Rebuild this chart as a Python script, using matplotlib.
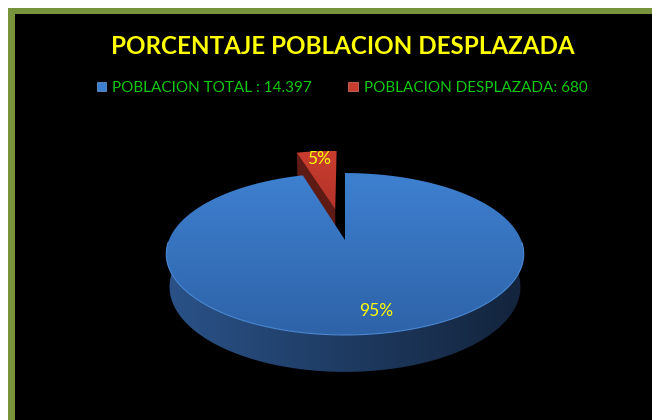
import numpy as np
import matplotlib.pyplot as plt
from matplotlib.patches import Polygon, Rectangle, Patch
from matplotlib.colors import LinearSegmentedColormap

# chart data
title = "PORCENTAJE POBLACION DESPLAZADA"
categories = ["POBLACION TOTAL : 14.397", "POBLACION DESPLAZADA: 680"]
values = [14397, 680]
explode = [0.0, 0.42]
top_colors = [("#3e80d0", "#2e63a8"), ("#c93d2f", "#b3332a")]
side_colors = [("#2a5288", "#13243c"), ("#5e1a14", "#5e1a14")]

plt.rcParams['font.family'] = ['Lato', 'DejaVu Sans']

# simple perspective camera, all in pixel space
cx, cy = 345, 240
F, D = 910.0, 5.17
elev = np.radians(26.5)
s_e, c_e = np.sin(elev), np.cos(elev)
h = 0.209


def proj(X, Y, Z=0.0):
    X = np.asarray(X, float)
    Y = np.asarray(Y, float)
    depth = D + Y * c_e - Z * s_e
    return cx + F * X / depth, cy - F * (Y * s_e + Z * c_e) / depth


fig = plt.figure(figsize=(6.52, 4.2), dpi=100)
fig.patch.set_facecolor("white")
ax = fig.add_axes([0, 0, 1, 1])
ax.set_xlim(0, 652)
ax.set_ylim(420, 0)
ax.axis("off")

# frame
ax.add_patch(Rectangle((8, 8), 700, 500, facecolor="#77933c", edgecolor="none", zorder=0))
ax.add_patch(Rectangle((15, 14), 700, 500, facecolor="black", edgecolor="none", zorder=0.5))

total = sum(values)
fracs = [v / total for v in values]
# red slice sits at 90..108 deg (CCW), blue takes the rest
a_red = (90, 90 + 360 * fracs[1])
a_blue = (a_red[1], 450)


def grad_fill(poly_xy, c1, c2, z, horizontal=False):
    poly = Polygon(poly_xy, closed=True, facecolor="none", edgecolor="none")
    ax.add_patch(poly)
    x0, y0 = poly_xy.min(axis=0)
    x1, y1 = poly_xy.max(axis=0)
    cmap = LinearSegmentedColormap.from_list("g", [c1, c2])
    g = np.linspace(0, 1, 100)
    g = g.reshape(1, -1) if horizontal else g.reshape(-1, 1)
    im = ax.imshow(g, cmap=cmap, aspect="auto", extent=(x0, x1, y1, y0),
                   zorder=z, interpolation="bilinear")
    im.set_clip_path(poly)


# ---- red (exploded) slice, drawn first since it sits behind
mid = np.radians(sum(a_red) / 2)
ex, ey = explode[1] * np.cos(mid), explode[1] * np.sin(mid)
t = np.radians(np.linspace(a_red[0], a_red[1], 40))
rx, ry = proj(np.r_[ex, ex + np.cos(t)], np.r_[ey, ey + np.sin(t)])
grad_fill(np.column_stack([rx, ry]), top_colors[1][0], top_colors[1][1], 2)
te = np.radians(a_red[1])
fx, fy = proj([ex, ex + np.cos(te), ex + np.cos(te), ex],
              [ey, ey + np.sin(te), ey + np.sin(te), ey], np.array([0, 0, -h, -h]))
ax.add_patch(Polygon(np.column_stack([fx, fy]), facecolor=side_colors[1][0],
                     edgecolor="none", zorder=1.9))

# ---- blue slice: outer side wall (front half), gradient left to right
phi = np.radians(np.linspace(180, 360, 200))
x_t, y_t = proj(np.cos(phi), np.sin(phi), 0.0)
x_b, y_b = proj(np.cos(phi), np.sin(phi), -h)
side = np.column_stack([np.r_[x_t, x_b[::-1]], np.r_[y_t, y_b[::-1]]])
grad_fill(side, side_colors[0][0], side_colors[0][1], 3, horizontal=True)

# blue top face
t = np.radians(np.linspace(a_blue[0], a_blue[1], 400))
bx, by = proj(np.r_[0, np.cos(t)], np.r_[0, np.sin(t)])
grad_fill(np.column_stack([bx, by]), top_colors[0][0], top_colors[0][1], 4)
# faint rim highlight along the front edge
tf = np.radians(np.linspace(182, 358, 200))
hx, hy = proj(np.cos(tf), np.sin(tf))
ax.plot(hx, hy, color="#4a88d4", linewidth=0.8, zorder=4.5)

# percentage labels
pcts = [f"{round(f * 100)}%" for f in fracs]
lm = np.radians(sum(a_blue) / 2 + 3)
lx, ly = proj(0.8 * np.cos(lm), 0.8 * np.sin(lm))
ax.text(lx, ly, pcts[0], color="#ffff00", fontsize=12.5, ha="center", va="center", zorder=6)
lx, ly = proj(ex + 0.85 * np.cos(mid), ey + 0.85 * np.sin(mid))
ax.text(lx, ly, pcts[1], color="#ffff00", fontsize=12.5, ha="center", va="center", zorder=6)

# title
ax.text(343, 46, title, color="#ffff00", fontsize=17.4, fontweight="bold",
        ha="center", va="center", zorder=6)

# legend
handles = [Patch(facecolor=top_colors[0][0], edgecolor="#6fa0dd", linewidth=0.5, label=categories[0]),
           Patch(facecolor=top_colors[1][0], edgecolor="#e07a70", linewidth=0.5, label=categories[1])]
leg = ax.legend(handles=handles, loc="center", bbox_to_anchor=(342 / 652, 1 - 88 / 420),
                ncol=2, frameon=False, fontsize=11, labelcolor="#12c812",
                handlelength=0.6, handleheight=0.6, handletextpad=0.4, columnspacing=2.4)

fig.savefig("out.png", dpi=100, facecolor=fig.get_facecolor())
